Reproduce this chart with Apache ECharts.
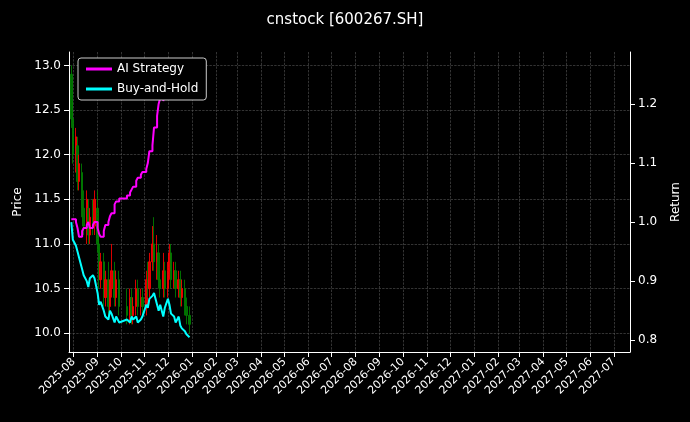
<!DOCTYPE html>
<html>
<head>
<meta charset="utf-8">
<script src="https://cdn.jsdelivr.net/npm/echarts@6/dist/echarts.min.js"></script>
<style>body{margin:0;background:#000}</style>
</head>
<body>
<div id="main" style="width:690px;height:422px;"></div>
<script>
var dates = ['2025-07-29','2025-07-31','2025-08-04','2025-08-06','2025-08-08','2025-08-12','2025-08-14','2025-08-18','2025-08-20','2025-08-22','2025-08-26','2025-08-28',
  '2025-09-01','2025-09-03','2025-09-05','2025-09-09','2025-09-11','2025-09-15','2025-09-17','2025-09-19','2025-09-23','2025-09-25','2025-09-29',
  '2025-10-09','2025-10-13','2025-10-15','2025-10-17','2025-10-21','2025-10-23','2025-10-27','2025-10-29',
  '2025-11-03','2025-11-05','2025-11-07','2025-11-11','2025-11-13','2025-11-17','2025-11-19','2025-11-21','2025-11-25','2025-11-27',
  '2025-12-01','2025-12-03','2025-12-05','2025-12-09','2025-12-11','2025-12-15','2025-12-17','2025-12-19','2025-12-23','2025-12-25','2025-12-29'];
// [open, close, low, high]
var ohlc = [[12.9,12.4,12.3,13.0],[12.4,12.0,11.9,12.6],[12.0,12.2,11.8,12.3],[12.1,11.7,11.6,12.2],[11.7,11.9,11.6,12.0],[11.8,11.4,11.3,11.9],[11.4,11.2,11.1,11.6],[11.2,11.5,11.0,11.6],[11.4,11.1,11.0,11.5],[11.1,11.3,11.0,11.4],[11.3,11.2,11.1,11.5],[11.2,11.5,11.1,11.6],
  [11.4,11.0,10.9,11.6],[11.0,10.6,10.5,11.1],[10.6,10.8,10.5,10.9],[10.8,10.4,10.3,10.9],[10.4,10.6,10.3,10.7],[10.6,10.3,10.2,10.8],[10.3,10.5,10.2,10.6],[10.5,10.7,10.4,11.0],[10.7,10.4,10.3,10.8],[10.4,10.6,10.3,10.7],[10.6,10.3,10.2,10.7],
  [10.3,10.2,10.1,10.5],[10.2,10.4,10.1,10.5],[10.4,10.2,10.1,10.5],[10.2,10.3,10.1,10.4],[10.3,10.5,10.2,10.6],[10.5,10.3,10.2,10.6],[10.3,10.4,10.2,10.5],[10.4,10.3,10.2,10.5],
  [10.3,10.6,10.2,10.7],[10.6,10.5,10.4,10.8],[10.5,10.8,10.4,10.9],[10.8,11.0,10.7,11.2],[11.0,10.8,10.7,11.3],[10.8,10.9,10.6,11.1],[10.9,10.6,10.5,11.0],[10.6,10.5,10.4,10.7],[10.5,10.7,10.4,10.9],[10.7,10.5,10.4,10.8],
  [10.5,10.7,10.4,10.8],[10.7,10.9,10.6,11.0],[10.9,10.6,10.5,11.0],[10.6,10.7,10.5,10.8],[10.7,10.5,10.4,10.8],[10.5,10.6,10.4,10.7],[10.6,10.4,10.3,10.7],[10.4,10.5,10.3,10.6],[10.5,10.3,10.2,10.6],[10.3,10.2,10.1,10.4],[10.2,10.1,10.0,10.3]];
var aiStrategy = [1.005,1.005,1.0,0.99,0.975,0.985,0.99,0.995,1.0,0.99,0.995,1.0,
  0.99,0.98,0.975,0.985,0.995,1.0,1.01,1.015,1.03,1.035,1.04,
  1.045,1.05,1.055,1.06,1.07,1.075,1.08,1.085,
  1.09,1.1,1.12,1.13,1.16,1.18,1.2,1.21,1.205,1.22,
  1.24,1.25,1.26,1.26,1.255,1.26,1.265,1.26,1.27,1.265,1.27];
var buyHold = [1.0,0.97,0.96,0.95,0.94,0.92,0.91,0.90,0.89,0.905,0.91,0.905,
  0.88,0.86,0.865,0.85,0.84,0.835,0.85,0.845,0.83,0.84,0.83,
  0.835,0.83,0.84,0.835,0.84,0.83,0.835,0.84,
  0.86,0.855,0.87,0.875,0.88,0.86,0.85,0.86,0.84,
  0.855,0.87,0.86,0.845,0.84,0.83,0.84,0.825,0.82,0.815,0.81,0.805];
var priceTicks = [10.0, 10.5, 11.0, 11.5, 12.0, 12.5, 13.0];
var returnTicks = [0.8, 0.9, 1.0, 1.1, 1.2];

var myChart = echarts.init(document.getElementById('main'));
var grid = {lineStyle: {color: '#555', type: 'dashed', width: 0.6}};
var option = {
  backgroundColor: '#000',
  animation: false,
  textStyle: {fontFamily: 'DejaVu Sans', color: '#fff'},
  title: {text: 'cnstock [600267.SH]', left: 'center', top: 8, textStyle: {color: '#fff', fontSize: 15, fontWeight: 'normal'}},
  legend: {
    orient: 'vertical', left: 78, top: 58, data: ['AI Strategy', 'Buy-and-Hold'],
    textStyle: {color: '#fff', fontSize: 12}, borderColor: '#ccc', borderWidth: 1, borderRadius: 3,
    backgroundColor: '#000', padding: [5, 8], itemGap: 8, itemWidth: 26, itemHeight: 3, icon: 'rect'
  },
  grid: {left: 69, right: 60, top: 52, bottom: 70},
  xAxis: {
    type: 'time', min: '2025-07-26', max: '2027-07-22', minInterval: 28 * 86400000, maxInterval: 31 * 86400000,
    axisLine: {lineStyle: {color: '#fff'}}, axisTick: {lineStyle: {color: '#fff'}},
    axisLabel: {color: '#fff', rotate: 45, fontSize: 11, formatter: '{yyyy}-{MM}', hideOverlap: false},
    splitLine: Object.assign({show: true}, grid)
  },
  yAxis: [
    {type: 'value', name: 'Price', nameLocation: 'middle', nameGap: 45, nameTextStyle: {color: '#fff', fontSize: 12},
     min: 9.79, max: 13.15, axisLine: {show: true, lineStyle: {color: '#fff'}},
     axisTick: {show: true, customValues: priceTicks},
     axisLabel: {color: '#fff', fontSize: 12, customValues: priceTicks, formatter: function (v) { return v.toFixed(1); }},
     splitLine: Object.assign({show: true}, grid)},
    {type: 'value', name: 'Return', nameLocation: 'middle', nameGap: 40, nameTextStyle: {color: '#fff', fontSize: 12},
     min: 0.78, max: 1.288, axisLine: {show: true, lineStyle: {color: '#fff'}},
     axisTick: {show: true, customValues: returnTicks},
     axisLabel: {color: '#fff', fontSize: 12, customValues: returnTicks, formatter: function (v) { return v.toFixed(1); }},
     splitLine: {show: false}}
  ],
  series: [
    {type: 'candlestick', yAxisIndex: 0, barWidth: 2,
     data: dates.map(function (d, i) { return [d].concat(ohlc[i]); }),
     itemStyle: {color: '#ff0000', color0: '#008000', borderColor: '#ff0000', borderColor0: '#008000', opacity: 0.85}},
    {name: 'AI Strategy', type: 'line', yAxisIndex: 1, showSymbol: false, step: 'end', lineStyle: {color: '#ff00ff', width: 2}, itemStyle: {color: '#ff00ff'},
     data: dates.map(function (d, i) { return [d, aiStrategy[i]]; })},
    {name: 'Buy-and-Hold', type: 'line', yAxisIndex: 1, showSymbol: false, lineStyle: {color: '#00ffff', width: 2}, itemStyle: {color: '#00ffff'},
     data: dates.map(function (d, i) { return [d, buyHold[i]]; })}
  ]
};
myChart.setOption(option);
</script>
</body>
</html>
